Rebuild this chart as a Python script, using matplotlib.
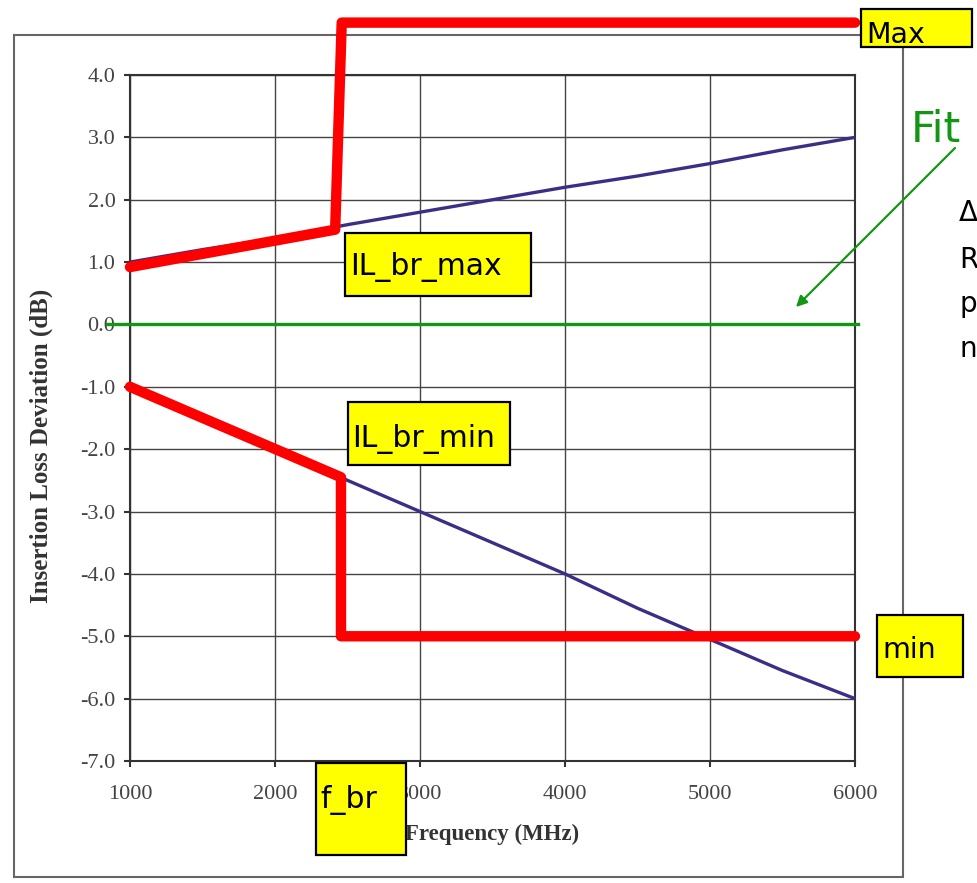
import matplotlib
matplotlib.use('Agg')
import matplotlib.pyplot as plt
from matplotlib.patches import Rectangle

# data
freq_meas = [1000, 1500, 2000, 2500, 3000, 3500, 4000, 4500, 5000, 5500, 6000]
il_upper = [1.0, 1.2, 1.38, 1.6, 1.8, 2.0, 2.2, 2.38, 2.58, 2.8, 3.0]
il_lower = [-1.0, -1.45, -1.95, -2.5, -3.0, -3.5, -4.0, -4.55, -5.05, -5.55, -6.0]

max_freq = [1000, 2415, 2460, 6000]
max_val = [0.92, 1.52, 4.84, 4.84]
min_freq = [1000, 2455, 2455, 6000]
min_val = [-1.0, -2.45, -5.0, -5.0]

fit_freq = [840, 6020]
fit_val = [0.0, 0.0]

xticks = [1000, 2000, 3000, 4000, 5000, 6000]
yticks = [4.0, 3.0, 2.0, 1.0, 0.0, -1.0, -2.0, -3.0, -4.0, -5.0, -6.0, -7.0]
ytick_labels = ['4.0', '3.0', '2.0', '1.0', '0.0', '-1.0', '-2.0', '-3.0',
                '-4.0', '-5.0', '-6.0', '-7.0']

W, H = 977, 883
fig = plt.figure(figsize=(W / 100, H / 100), dpi=100)


def fx(px):
    return px / W


def fy(py):
    return 1 - py / H


# outer frame
fig.add_artist(Rectangle((fx(14), fy(877)), fx(903) - fx(14), fy(35) - fy(877),
                         transform=fig.transFigure, fill=False,
                         edgecolor='#666666', lw=1.5, zorder=0))

ax = fig.add_axes([fx(130), fy(761), fx(855) - fx(130), fy(75) - fy(761)])
ax.set_xlim(1000, 6000)
ax.set_ylim(-7.0, 4.0)
ax.set_xticks(xticks)
ax.set_yticks(yticks)
ax.set_yticklabels(ytick_labels)
ax.grid(True, color='#444444', lw=1.0)
ax.set_axisbelow(True)
for s in ax.spines.values():
    s.set_color('#333333')
    s.set_linewidth(1.5)
ax.tick_params(axis='both', direction='out', length=4.5, width=1.5, color='#333333',
               labelsize=16, labelcolor='#444444')
ax.tick_params(axis='x', pad=13)
ax.tick_params(axis='y', pad=6)
for lab in ax.get_xticklabels() + ax.get_yticklabels():
    lab.set_family('Liberation Serif')

ax.set_xlabel('Frequency (MHz)', family='Liberation Serif', fontweight='bold',
              fontsize=16.5, color='#333333', labelpad=14)
ax.set_ylabel('Insertion Loss Deviation (dB)', family='Liberation Serif',
              fontweight='bold', fontsize=18, color='#333333')
ax.yaxis.set_label_coords(fx(53 - 130) / (fx(855) - fx(130)), 0.46)

ax.plot(freq_meas, il_upper, color='#3b2f85', lw=2.4, zorder=3)
ax.plot(freq_meas, il_lower, color='#3b2f85', lw=2.4, zorder=3)
ax.plot(fit_freq, fit_val, color='#139613', lw=2.4, zorder=3, clip_on=False)
ax.plot(max_freq, max_val, color='#ff0000', lw=7.5, zorder=4, clip_on=False,
        solid_capstyle='round', solid_joinstyle='round')
ax.plot(min_freq, min_val, color='#ff0000', lw=7.5, zorder=4, clip_on=False,
        solid_capstyle='round', solid_joinstyle='round')


def label_box(x0, y0, x1, y1, text, tx, ty, size=21):
    fig.add_artist(Rectangle((fx(x0), fy(y1)), fx(x1) - fx(x0), fy(y0) - fy(y1),
                             transform=fig.transFigure, facecolor='#ffff00',
                             edgecolor='black', lw=1.6, zorder=10))
    fig.text(fx(tx), fy(ty), text, fontsize=size, family='DejaVu Sans',
             color='black', va='baseline', ha='left', zorder=11)


label_box(861, 9, 972, 47, 'Max', 866, 43, 20.5)
label_box(345, 233, 531, 296, 'IL_br_max', 350, 275, 21.5)
label_box(348, 402, 510, 465, 'IL_br_min', 352, 447, 21.5)
label_box(316, 763, 406, 855, 'f_br', 320, 808, 21.5)
label_box(877, 615, 963, 677, 'min', 882, 658, 20.5)

fig.text(fx(911), fy(142), 'Fit', fontsize=31, family='DejaVu Sans',
         color='#139613', va='baseline', ha='left', zorder=11)
fig.add_artist(plt.Annotation('', xy=(fx(796), fy(307)), xytext=(fx(955), fy(148)),
                              xycoords='figure fraction', textcoords='figure fraction',
                              arrowprops=dict(arrowstyle='-|>', color='#139613', lw=1.6,
                                              mutation_scale=16, shrinkA=0, shrinkB=0)))

for ch, by in zip(['Δ', 'R', 'p', 'n'], [221, 268, 312, 357]):
    fig.text(fx(959), fy(by), ch, fontsize=20, family='DejaVu Sans',
             color='black', va='baseline', ha='left')

fig.savefig('out.png', dpi=100)
